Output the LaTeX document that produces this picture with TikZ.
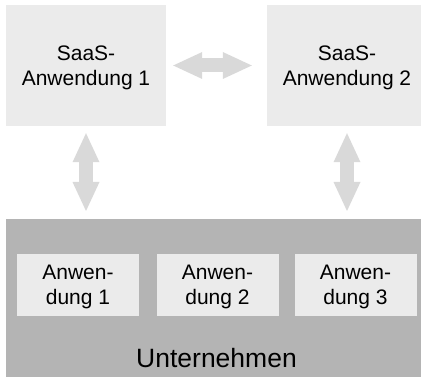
\documentclass[tikz,border=0pt]{standalone}
\usepackage{fontspec}
\setmainfont{Liberation Sans}
\usetikzlibrary{arrows.meta}
\definecolor{kasten}{HTML}{EBEBEB}
\definecolor{pfeil}{HTML}{D9D9D9}
\definecolor{firma}{HTML}{B4B4B4}

\begin{document}
\begin{tikzpicture}[x=1pt,y=-1pt,
  saas/.style={fill=kasten,minimum width=160pt,minimum height=121pt,inner sep=0pt,
    align=center,text depth=0pt,font=\fontsize{21}{25}\selectfont},
  app/.style={fill=kasten,minimum width=122pt,minimum height=62pt,inner sep=0pt,
    align=center,text depth=0pt,font=\fontsize{21}{25}\selectfont},
  spitze/.tip={Triangle[length=29pt,width=27pt,line width=0pt]},
  dpfeil/.style={draw=pfeil,line width=14pt,spitze-spitze}]
  \path[use as bounding box,clip] (0,0) rectangle (421,377);

  \node[saas] (saas1) at (86,65.5) {SaaS-\\Anwendung 1};
  \node[saas] (saas2) at (347,65.5) {SaaS-\\Anwendung 2};

  \node[fill=firma,minimum width=421pt,minimum height=170pt,inner sep=0pt,anchor=north west] (firma) at (6,219) {};
  \node[app] (app1) at (78,285) {Anwen-\\dung 1};
  \node[app] (app2) at (217.5,285) {Anwen-\\dung 2};
  \node[app] (app3) at (355.5,285) {Anwen-\\dung 3};
  \node[font=\fontsize{26.5}{30}\selectfont,anchor=base] (firmaname) at (216.5,367) {Unternehmen};

  \draw[dpfeil,shorten <=7pt,shorten >=15pt] (saas1.east) -- (saas2.west);
  \draw[dpfeil,shorten <=7pt,shorten >=8pt] (saas1.south) -- (saas1.south |- firma.north);
  \draw[dpfeil,shorten <=7pt,shorten >=8pt] (saas2.south) -- (saas2.south |- firma.north);
\end{tikzpicture}
\end{document}
